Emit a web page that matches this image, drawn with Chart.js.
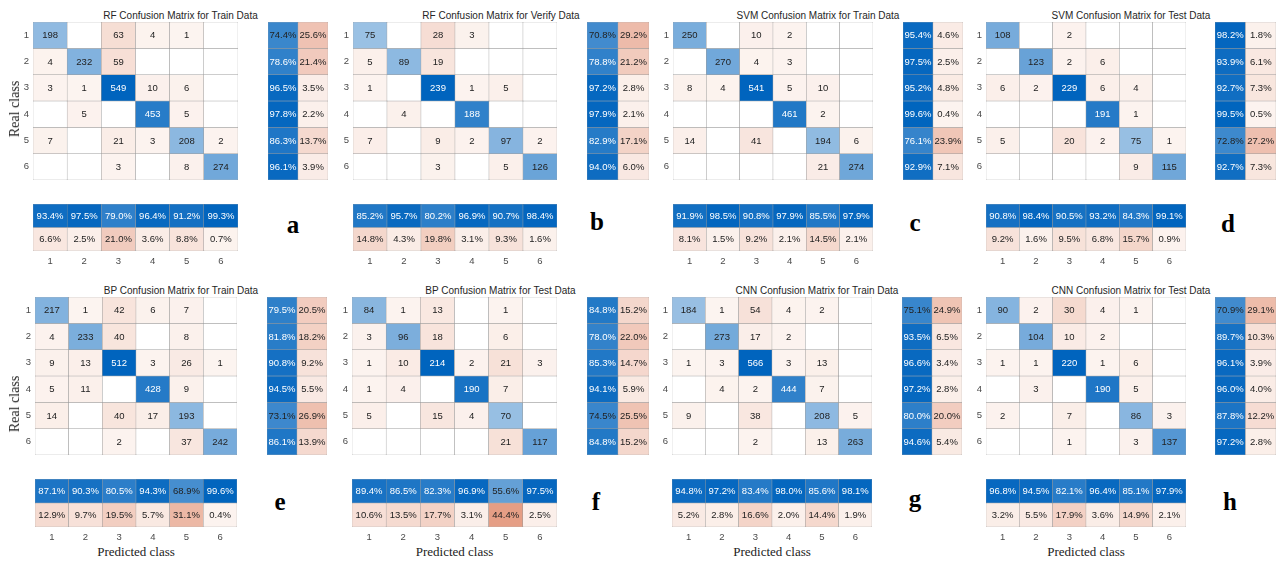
<!DOCTYPE html>
<html>
<head>
<meta charset="utf-8">
<script src="https://cdn.jsdelivr.net/npm/chart.js@4.4.1/dist/chart.umd.min.js"></script>
<style>
  body { margin: 0; background: #fff; }
  #fig { position: relative; width: 1276px; height: 561px; overflow: hidden; background: #fff; }
  .ttl { position: absolute; font: 10px "Liberation Sans", Arial, sans-serif; color: #262626; white-space: nowrap; transform: translate(-50%, -50%); }
  .tag { position: absolute; font: bold 25px "Liberation Serif", "Times New Roman", serif; color: #000; transform: translate(-50%, -50%); }
  .axn { position: absolute; font: 13px "Liberation Serif", "Times New Roman", serif; color: #222; white-space: nowrap; transform: translate(-50%, -50%); }
  .axn.rot { font-size: 14px; transform: translate(-50%, -50%) rotate(-90deg); }
</style>
</head>
<body>
<div id="fig"></div>
<script>
const classes = ['1', '2', '3', '4', '5', '6'];

// counts: rows = real class, columns = predicted class
const rfTrain = [
  [198, 0, 63, 4, 1, 0],
  [4, 232, 59, 0, 0, 0],
  [3, 1, 549, 10, 6, 0],
  [0, 5, 0, 453, 5, 0],
  [7, 0, 21, 3, 208, 2],
  [0, 0, 3, 0, 8, 274]
];
const rfTrainRow = [[74.4, 25.6], [78.6, 21.4], [96.5, 3.5], [97.8, 2.2], [86.3, 13.7], [96.1, 3.9]];
const rfTrainCol = [[93.4, 6.6], [97.5, 2.5], [79.0, 21.0], [96.4, 3.6], [91.2, 8.8], [99.3, 0.7]];

const rfVerify = [
  [75, 0, 28, 3, 0, 0],
  [5, 89, 19, 0, 0, 0],
  [1, 0, 239, 1, 5, 0],
  [0, 4, 0, 188, 0, 0],
  [7, 0, 9, 2, 97, 2],
  [0, 0, 3, 0, 5, 126]
];
const rfVerifyRow = [[70.8, 29.2], [78.8, 21.2], [97.2, 2.8], [97.9, 2.1], [82.9, 17.1], [94.0, 6.0]];
const rfVerifyCol = [[85.2, 14.8], [95.7, 4.3], [80.2, 19.8], [96.9, 3.1], [90.7, 9.3], [98.4, 1.6]];

const svmTrain = [
  [250, 0, 10, 2, 0, 0],
  [0, 270, 4, 3, 0, 0],
  [8, 4, 541, 5, 10, 0],
  [0, 0, 0, 461, 2, 0],
  [14, 0, 41, 0, 194, 6],
  [0, 0, 0, 0, 21, 274]
];
const svmTrainRow = [[95.4, 4.6], [97.5, 2.5], [95.2, 4.8], [99.6, 0.4], [76.1, 23.9], [92.9, 7.1]];
const svmTrainCol = [[91.9, 8.1], [98.5, 1.5], [90.8, 9.2], [97.9, 2.1], [85.5, 14.5], [97.9, 2.1]];

const svmTest = [
  [108, 0, 2, 0, 0, 0],
  [0, 123, 2, 6, 0, 0],
  [6, 2, 229, 6, 4, 0],
  [0, 0, 0, 191, 1, 0],
  [5, 0, 20, 2, 75, 1],
  [0, 0, 0, 0, 9, 115]
];
const svmTestRow = [[98.2, 1.8], [93.9, 6.1], [92.7, 7.3], [99.5, 0.5], [72.8, 27.2], [92.7, 7.3]];
const svmTestCol = [[90.8, 9.2], [98.4, 1.6], [90.5, 9.5], [93.2, 6.8], [84.3, 15.7], [99.1, 0.9]];

const bpTrain = [
  [217, 1, 42, 6, 7, 0],
  [4, 233, 40, 0, 8, 0],
  [9, 13, 512, 3, 26, 1],
  [5, 11, 0, 428, 9, 0],
  [14, 0, 40, 17, 193, 0],
  [0, 0, 2, 0, 37, 242]
];
const bpTrainRow = [[79.5, 20.5], [81.8, 18.2], [90.8, 9.2], [94.5, 5.5], [73.1, 26.9], [86.1, 13.9]];
const bpTrainCol = [[87.1, 12.9], [90.3, 9.7], [80.5, 19.5], [94.3, 5.7], [68.9, 31.1], [99.6, 0.4]];

const bpTest = [
  [84, 1, 13, 0, 1, 0],
  [3, 96, 18, 0, 6, 0],
  [1, 10, 214, 2, 21, 3],
  [1, 4, 0, 190, 7, 0],
  [5, 0, 15, 4, 70, 0],
  [0, 0, 0, 0, 21, 117]
];
const bpTestRow = [[84.8, 15.2], [78.0, 22.0], [85.3, 14.7], [94.1, 5.9], [74.5, 25.5], [84.8, 15.2]];
const bpTestCol = [[89.4, 10.6], [86.5, 13.5], [82.3, 17.7], [96.9, 3.1], [55.6, 44.4], [97.5, 2.5]];

const cnnTrain = [
  [184, 1, 54, 4, 2, 0],
  [0, 273, 17, 2, 0, 0],
  [1, 3, 566, 3, 13, 0],
  [0, 4, 2, 444, 7, 0],
  [9, 0, 38, 0, 208, 5],
  [0, 0, 2, 0, 13, 263]
];
const cnnTrainRow = [[75.1, 24.9], [93.5, 6.5], [96.6, 3.4], [97.2, 2.8], [80.0, 20.0], [94.6, 5.4]];
const cnnTrainCol = [[94.8, 5.2], [97.2, 2.8], [83.4, 16.6], [98.0, 2.0], [85.6, 14.4], [98.1, 1.9]];

const cnnTest = [
  [90, 2, 30, 4, 1, 0],
  [0, 104, 10, 2, 0, 0],
  [1, 1, 220, 1, 6, 0],
  [0, 3, 0, 190, 5, 0],
  [2, 0, 7, 0, 86, 3],
  [0, 0, 1, 0, 3, 137]
];
const cnnTestRow = [[70.9, 29.1], [89.7, 10.3], [96.1, 3.9], [96.0, 4.0], [87.8, 12.2], [97.2, 2.8]];
const cnnTestCol = [[96.8, 3.2], [94.5, 5.5], [82.1, 17.9], [96.4, 3.6], [85.1, 14.9], [97.9, 2.1]];

const titles = [
  'RF Confusion Matrix for Train Data', 'RF Confusion Matrix for Verify Data',
  'SVM Confusion Matrix for Train Data', 'SVM Confusion Matrix for Test Data',
  'BP Confusion Matrix for Train Data', 'BP Confusion Matrix for Test Data',
  'CNN Confusion Matrix for Train Data', 'CNN Confusion Matrix for Test Data'
];
const tags = ['a', 'b', 'c', 'd', 'e', 'f', 'g', 'h'];
const countsList = [rfTrain, rfVerify, svmTrain, svmTest, bpTrain, bpTest, cnnTrain, cnnTest];
const rowPctList = [rfTrainRow, rfVerifyRow, svmTrainRow, svmTestRow, bpTrainRow, bpTestRow, cnnTrainRow, cnnTestRow];
const colPctList = [rfTrainCol, rfVerifyCol, svmTrainCol, svmTestCol, bpTrainCol, bpTestCol, cnnTrainCol, cnnTestCol];

// placement of each panel (pixels)
const frames = [
  { mx: 33, mw: 205, my: 22, mh: 158, rx: 268, rw: 60, cy: 204, ch: 47, lx: 293, ly: 225 },
  { mx: 353, mw: 204, my: 22, mh: 158, rx: 587, rw: 62, cy: 204, ch: 47, lx: 597, ly: 222 },
  { mx: 673, mw: 200, my: 22, mh: 158, rx: 903, rw: 60, cy: 204, ch: 47, lx: 915, ly: 223 },
  { mx: 986, mw: 200, my: 22, mh: 158, rx: 1215, rw: 61, cy: 204, ch: 47, lx: 1228, ly: 224 },
  { mx: 35, mw: 202, my: 297, mh: 158, rx: 267, rw: 60, cy: 479, ch: 48, lx: 280, ly: 502 },
  { mx: 352, mw: 205, my: 297, mh: 158, rx: 587, rw: 62, cy: 479, ch: 48, lx: 596, ly: 502 },
  { mx: 672, mw: 200, my: 297, mh: 158, rx: 902, rw: 60, cy: 479, ch: 48, lx: 915, ly: 499 },
  { mx: 986, mw: 200, my: 297, mh: 158, rx: 1215, rw: 61, cy: 479, ch: 48, lx: 1230, ly: 502 }
];

const SANS = '"Liberation Sans", Arial, sans-serif';
const fig = document.getElementById('fig');

function mix(c0, c1, t) {
  const c = c0.map((v, i) => Math.round(v + (c1[i] - v) * t));
  return `rgb(${c[0]},${c[1]},${c[2]})`;
}
const blue = t => mix([225, 235, 245], [0, 100, 190], t);
const red = t => mix([252, 244, 240], [201, 50, 0], t);
const darkText = '#222';

function addCanvas(x, y, w, h) {
  const c = document.createElement('canvas');
  c.width = w; c.height = h;
  c.style.cssText = `position:absolute;left:${x}px;top:${y}px;width:${w}px;height:${h}px`;
  fig.appendChild(c);
  return c;
}

function addText(cls, text, x, y) {
  const d = document.createElement('div');
  d.className = cls;
  d.textContent = text;
  d.style.left = x + 'px';
  d.style.top = y + 'px';
  fig.appendChild(d);
}

const cellText = {
  id: 'cellText',
  afterDatasetsDraw(chart) {
    const ctx = chart.ctx;
    chart.data.datasets.forEach((ds, i) => {
      chart.getDatasetMeta(i).data.forEach((bar, j) => {
        const txt = ds.cellText[j];
        if (!txt) return;
        const p = bar.getCenterPoint();
        ctx.save();
        ctx.font = '9.5px ' + SANS;
        ctx.fillStyle = ds.cellColor[j];
        ctx.textAlign = 'center';
        ctx.textBaseline = 'middle';
        ctx.fillText(txt, p.x, p.y + 0.5);
        ctx.restore();
      });
    });
  }
};

// one dataset per grid row; each cell is a floating bar spanning one unit
function gridDatasets(rows, colorOf, textOf, textColorOf) {
  return rows.map((row, r) => ({
    data: row.map(() => [r + 0.5, r + 1.5]),
    backgroundColor: row.map((v, c) => colorOf(v, r, c)),
    cellText: row.map((v, c) => textOf(v, r, c)),
    cellColor: row.map((v, c) => textColorOf(v, r, c)),
    borderColor: '#9a9a9a',
    borderWidth: 0.5,
    borderSkipped: false,
    grouped: false,
    barPercentage: 1,
    categoryPercentage: 1
  }));
}

function baseOptions(nRows, xScale, yExtra) {
  return {
    responsive: false,
    animation: false,
    layout: { padding: 0 },
    plugins: { legend: { display: false }, tooltip: { enabled: false } },
    scales: {
      x: xScale,
      y: Object.assign({
        type: 'linear', min: 0.5, max: nRows + 0.5, reverse: true,
        grid: { display: false, drawTicks: false }, border: { display: false }
      }, yExtra)
    }
  };
}

function rowOf(pairs, idx) {
  return pairs.map(p => p[idx]);
}

function drawPanel(k) {
  const f = frames[k];
  const counts = countsList[k];
  const maxV = Math.max(...counts.flat());

  addText('ttl', titles[k], (f.mx + f.rx + f.rw) / 2, f.my - 7);
  addText('tag', tags[k], f.lx, f.ly);

  // main matrix
  const axisW = 20;
  new Chart(addCanvas(f.mx - axisW, f.my, f.mw + axisW, f.mh), {
    type: 'bar',
    data: {
      labels: classes,
      datasets: gridDatasets(
        counts,
        (v, r, c) => v === 0 ? '#ffffff' : (r === c ? blue(v / maxV) : red(v / maxV)),
        v => v === 0 ? '' : String(v),
        (v, r, c) => (r === c && v / maxV > 0.755) ? '#ffffff' : darkText
      )
    },
    options: baseOptions(6, { type: 'category', display: false }, {
      afterBuildTicks: s => { s.ticks = classes.map((_, i) => ({ value: i + 1 })); },
      afterFit: s => { s.width = axisW; s.paddingTop = 0; s.paddingBottom = 0; },
      ticks: { font: { size: 9.5, family: SANS }, color: '#4a4a4a', padding: 4, callback: v => classes[v - 1] }
    }),
    plugins: [cellText]
  });

  // row summary: correct / wrong share per real class
  new Chart(addCanvas(f.rx, f.my, f.rw, f.mh), {
    type: 'bar',
    data: {
      labels: ['ok', 'err'],
      datasets: gridDatasets(
        rowPctList[k],
        (v, r, c) => c === 0 ? blue(v / 100) : red(v / 100),
        v => v.toFixed(1) + '%',
        (v, r, c) => (c === 0 && v > 75.5) ? '#ffffff' : darkText
      )
    },
    options: baseOptions(6, { type: 'category', display: false }, { display: false }),
    plugins: [cellText]
  });

  // column summary: correct / wrong share per predicted class
  const colRows = [rowOf(colPctList[k], 0), rowOf(colPctList[k], 1)];
  const tickH = 16;
  new Chart(addCanvas(f.mx, f.cy, f.mw, f.ch + tickH), {
    type: 'bar',
    data: {
      labels: classes,
      datasets: gridDatasets(
        colRows,
        (v, r) => r === 0 ? blue(v / 100) : red(v / 100),
        v => v.toFixed(1) + '%',
        (v, r) => (r === 0 && v > 75.5) ? '#ffffff' : darkText
      )
    },
    options: baseOptions(2, {
      type: 'category',
      grid: { display: false, drawTicks: false }, border: { display: false },
      ticks: { font: { size: 9.5, family: SANS }, color: '#4a4a4a', padding: 5 },
      afterFit: s => { s.height = tickH; s.paddingLeft = 0; s.paddingRight = 0; }
    }, { display: false }),
    plugins: [cellText]
  });

  if (k % 4 === 0) addText('axn rot', 'Real class', 15, k === 0 ? 109 : 404);
  if (k >= 4) addText('axn', 'Predicted class', f.mx + f.mw / 2, 552);
}

for (let k = 0; k < 8; k++) drawPanel(k);
</script>
</body>
</html>
